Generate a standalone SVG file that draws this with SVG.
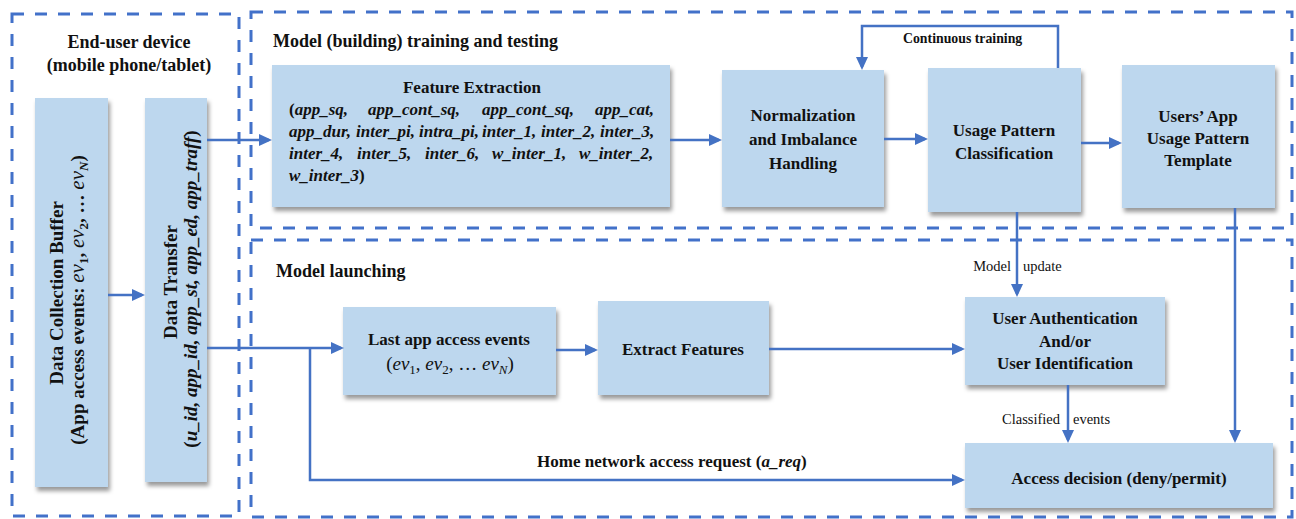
<svg xmlns="http://www.w3.org/2000/svg" width="1296" height="519" viewBox="0 0 1296 519">
<style>
text{font-family:"Liberation Serif","Times New Roman",serif;fill:#111}
.b{font-weight:bold}
.i{font-style:italic}
.n{font-style:normal}
.f17{font-size:17px}
.f18{font-size:18px}
.f19{font-size:19px}
.lab{font-size:14.5px}
.mid{text-anchor:middle}
.end{text-anchor:end}
.box{fill:#bdd7ee;filter:url(#sh)}
.frame{fill:none;stroke:#4271c9;stroke-width:3;stroke-dasharray:12 11}
.c{fill:none;stroke:#4472c4;stroke-width:2.5}
.a{marker-end:url(#ah)}
</style>
<defs>
<filter id="sh" x="-10%" y="-10%" width="125%" height="130%">
<feDropShadow dx="2" dy="4" stdDeviation="2.2" flood-color="#000" flood-opacity="0.4"/>
</filter>
<marker id="ah" viewBox="0 0 13 12" refX="10" refY="6" markerWidth="13" markerHeight="12" orient="auto" markerUnits="userSpaceOnUse">
<path d="M0,0 L13,6 L0,12 z" fill="#4472c4"/>
</marker>
</defs>
<rect width="1296" height="519" fill="#fff"/>

<g id="frames">
<rect class="frame" x="12" y="14" width="227" height="502"/>
<rect class="frame" x="251" y="12" width="1041" height="216"/>
<rect class="frame" x="251" y="240" width="1041" height="277"/>
<text class="b f18 mid" x="129" y="48">End-user device</text>
<text class="b f18 mid" x="129" y="71">(mobile phone/tablet)</text>
<text class="b f18" x="273" y="47">Model (building) training and testing</text>
<text class="b f18" x="276" y="277">Model launching</text>
</g>

<g id="data-collection-buffer">
<rect class="box" x="35" y="98" width="73" height="389"/>
<text class="b f19 mid" transform="translate(63,293) rotate(-90)">Data Collection Buffer</text>
<text class="b f19 mid" transform="translate(84,300) rotate(-90)">(App access events: <tspan class="i" font-weight="normal" font-size="21">ev</tspan><tspan font-size="13" dy="4">1</tspan><tspan dy="-4">, </tspan><tspan class="i" font-weight="normal" font-size="21">ev</tspan><tspan font-size="13" dy="4">2</tspan><tspan dy="-4">, … </tspan><tspan class="i" font-weight="normal" font-size="21">ev</tspan><tspan class="i" font-size="13" dy="4">N</tspan><tspan dy="-4">)</tspan></text>
</g>

<g id="data-transfer">
<rect class="box" x="145" y="98" width="62" height="384"/>
<text class="b f19 mid" transform="translate(177,282) rotate(-90)">Data Transfer</text>
<text class="b f19 mid" transform="translate(197,289) rotate(-90)">(<tspan class="i">u_id, app_id, app_st, app_ed, app_traff</tspan>)</text>
</g>

<g id="feature-extraction">
<rect class="box" x="272" y="65" width="398" height="142"/>
<text class="b f17 mid" x="472" y="93">Feature Extraction</text>
<g class="b i f17">
<text x="289" y="115"><tspan class="n">(</tspan>app_sq,</text>
<text x="368" y="115">app_cont_sq,</text>
<text x="482" y="115">app_cont_sq,</text>
<text x="595" y="115">app_cat,</text>
<text x="289" y="137">app_dur,</text>
<text x="356" y="137">inter_pi,</text>
<text x="419" y="137">intra_pi,</text>
<text x="482" y="137">inter_1,</text>
<text x="541" y="137">inter_2,</text>
<text x="600" y="137">inter_3,</text>
<text x="289" y="159">inter_4,</text>
<text x="357" y="159">inter_5,</text>
<text x="425" y="159">inter_6,</text>
<text x="492" y="159">w_inter_1,</text>
<text x="579" y="159">w_inter_2,</text>
<text x="289" y="181">w_inter_3<tspan class="n">)</tspan></text>
</g>
</g>

<g id="normalization">
<rect class="box" x="722" y="70" width="162" height="137"/>
<text class="b f17 mid" x="803" y="121">Normalization</text>
<text class="b f17 mid" x="803" y="145">and Imbalance</text>
<text class="b f17 mid" x="803" y="169">Handling</text>
</g>

<g id="usage-pattern-classification">
<rect class="box" x="928" y="68" width="153" height="144"/>
<text class="b f17 mid" x="1004" y="136">Usage Pattern</text>
<text class="b f17 mid" x="1004" y="159">Classification</text>
</g>

<g id="usage-pattern-template">
<rect class="box" x="1122" y="65" width="153" height="143"/>
<text class="b f17 mid" x="1198" y="122">Users’ App</text>
<text class="b f17 mid" x="1198" y="144">Usage Pattern</text>
<text class="b f17 mid" x="1198" y="166">Template</text>
</g>

<g id="last-app-access-events">
<rect class="box" x="343" y="307" width="213" height="88"/>
<text class="b f17 mid" x="449" y="345">Last app access events</text>
<text class="f19 mid" x="450" y="370">(<tspan class="i">ev</tspan><tspan font-size="13" dy="4">1</tspan><tspan dy="-4">, </tspan><tspan class="i">ev</tspan><tspan font-size="13" dy="4">2</tspan><tspan dy="-4">, … </tspan><tspan class="i">ev</tspan><tspan class="i" font-size="13" dy="4">N</tspan><tspan dy="-4">)</tspan></text>
</g>

<g id="extract-features">
<rect class="box" x="598" y="301" width="171" height="94"/>
<text class="b f17 mid" x="683" y="355">Extract Features</text>
</g>

<g id="user-authentication">
<rect class="box" x="965" y="297" width="200" height="88"/>
<text class="b f17 mid" x="1065" y="324">User Authentication</text>
<text class="b f17 mid" x="1065" y="347">And/or</text>
<text class="b f17 mid" x="1065" y="369">User Identification</text>
</g>

<g id="access-decision">
<rect class="box" x="965" y="443" width="308" height="65"/>
<text class="b f17 mid" x="1119" y="484">Access decision (deny/permit)</text>
</g>

<g id="connectors">
<path class="c a" d="M108,295 H142"/>
<path class="c a" d="M207,140 H269"/>
<path class="c a" d="M670,140 H719"/>
<path class="c a" d="M884,139 H925"/>
<path class="c a" d="M1081,143 H1119"/>
<path class="c a" d="M1058,68 V26 H862 V67"/>
<path class="c a" d="M1017,212 V294"/>
<path class="c a" d="M1235,208 V440"/>
<path class="c a" d="M1068,385 V440"/>
<path class="c a" d="M207,348 H341"/>
<path class="c a" d="M310,348 V480 H962"/>
<path class="c a" d="M556,350 H595"/>
<path class="c a" d="M769,349 H962"/>
<text class="b" font-size="13.8" x="903" y="43">Continuous training</text>
<text class="lab end" x="1011" y="271">Model</text>
<text class="lab" x="1023" y="271">update</text>
<text class="lab" x="1002" y="424">Classified</text>
<text class="lab" x="1073" y="424">events</text>
<text class="b f17" x="537" y="467">Home network access request (<tspan class="i">a_req</tspan>)</text>
</g>
</svg>
